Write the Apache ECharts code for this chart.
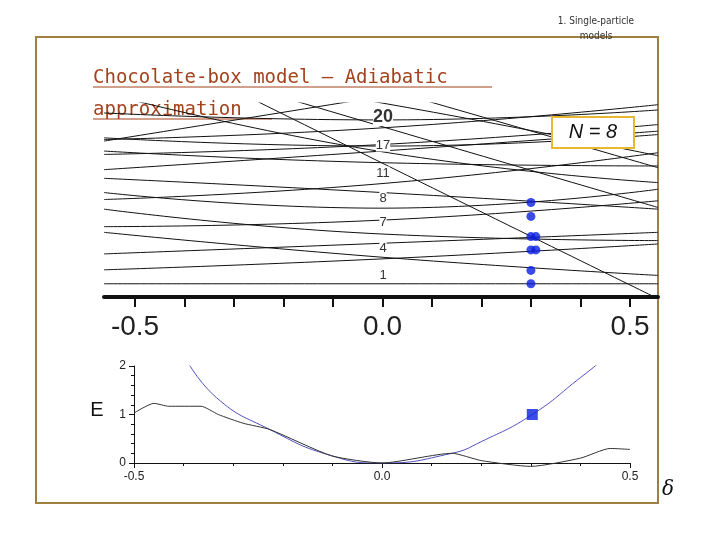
<!DOCTYPE html>
<html><head><meta charset="utf-8">
<script src="https://cdn.jsdelivr.net/npm/echarts@6/dist/echarts.min.js"></script>
<style>html,body{margin:0;padding:0;background:#fff}#c{width:720px;height:540px}</style>
</head><body><div id="c"></div>
<script>
// Top panel: level curves, values at delta = -0.56, 0, 0.556 (arbitrary energy units)
const levelX = [-0.56, 0, 0.556];
const levels = [
  [1.33,1.33,1.33],[2.73,3.83,5.33],[6.5,4.0,2.17],[4.33,5.4,6.5],[8.83,6.33,5.67],
  [7.07,7.73,9.67],[10.5,8.93,10.83],[11.93,10.5,8.83],[12.8,14.67,16.67],[14.33,15.33,17.33],
  [14.67,13.5,13.17],[16.0,15.17,16.33],[15.83,17.0,19.33],[27.3,13.47,-0.17],[25.4,17.13,9.0],
  [29.0,21.0,13.0],[15.67,20.17,24.67],[20.5,14.6,11.5],[9.8,11.4,14.5],[18.5,17.8,18.8],[24,19.5,14.2]
];
const dotsX = [0.3,0.3,0.3,0.31,0.3,0.31,0.3,0.3];
const dotsY = [9.5,8.1,6.07,6.07,4.73,4.73,2.67,1.33];
const levelLabels = ['20','17','11','8','7','4','1'];
const levelLabelY = [117,145,173,198,222,248,275];
// Bottom panel
const blueCurve = [[-0.40,2.23],[-0.334,1.35],[-0.226,0.69],[-0.102,0.15],[0,0],[0.141,0.2],[0.2,0.44],[0.303,1.0],[0.4,1.76],[0.458,2.23]];
const blackCurve = [[-0.5,1.03],[-0.46,1.23],[-0.43,1.17],[-0.365,1.17],[-0.33,1.0],[-0.28,0.82],[-0.226,0.69],[-0.102,0.15],[0,0],[0.141,0.2],[0.2,0.05],[0.3,-0.07],[0.4,0.1],[0.46,0.3],[0.5,0.28]];
const square = [[0.303,1.0]];

const series = [];
levels.forEach(l => series.push({type:'line',xAxisIndex:0,yAxisIndex:0,smooth:true,symbol:'none',
  data:levelX.map((x,i)=>[x,l[i]]),lineStyle:{color:'#111',width:1},silent:true}));
series.push({type:'scatter',xAxisIndex:0,yAxisIndex:0,symbolSize:9,itemStyle:{color:'#0a1ee0'},
  data:dotsX.map((x,i)=>[x,dotsY[i]]),z:5});
series.push({type:'line',xAxisIndex:2,yAxisIndex:2,smooth:true,symbol:'none',data:blueCurve,lineStyle:{color:'#5050c0',width:1}});
series.push({type:'line',xAxisIndex:2,yAxisIndex:2,smooth:0.2,symbol:'none',data:blackCurve,clip:false,lineStyle:{color:'#333',width:1}});
series.push({type:'scatter',xAxisIndex:2,yAxisIndex:2,symbol:'rect',symbolSize:11,data:square,itemStyle:{color:'#0a1ee0'},z:5});

const graphics = [
  {type:'rect',shape:{x:36,y:37,width:622,height:466},style:{fill:'none',stroke:'#a08040',lineWidth:2}},
  {type:'text',x:596,y:14,style:{text:'1. Single-particle\nmodels',font:'10px "DejaVu Sans Condensed"',fill:'#333',align:'center',lineHeight:15}},
  {type:'text',x:93,y:62,style:{text:'Chocolate-box model – Adiabatic\napproximation',font:'19px "DejaVu Sans Mono"',fill:'#a3421c',lineHeight:32}},
  {type:'line',shape:{x1:93,y1:87,x2:492,y2:87},style:{stroke:'#a3421c',lineWidth:1.2}},
  {type:'line',shape:{x1:93,y1:119,x2:272,y2:119},style:{stroke:'#a3421c',lineWidth:1.2}},
  {type:'rect',shape:{x:552,y:117,width:82,height:31},style:{fill:'#fff',stroke:'#e8b830',lineWidth:2},z:10},
  {type:'text',x:593,y:132,style:{text:'N = 8',font:'italic 20px Arial, "Liberation Sans"',fill:'#111',align:'center',verticalAlign:'middle'},z:11},
  {type:'text',x:97,y:410,style:{text:'E',font:'20px "Liberation Sans"',fill:'#111',align:'center',verticalAlign:'middle'}},
  {type:'text',x:668,y:490,style:{text:'δ',font:'italic 20px "DejaVu Serif"',fill:'#111',align:'center',verticalAlign:'middle'}}
];
levelLabels.forEach((t,i)=>graphics.push({type:'text',x:383,y:levelLabelY[i],style:{text:t,
  font:(i===0?'bold 18px':'13px')+' "Liberation Sans"',fill:'#333',align:'center',verticalAlign:'middle',backgroundColor:'#fff'},z:8}));

const chart = echarts.init(document.getElementById('c'));
chart.setOption({
  animation:false,
  graphic:graphics,
  grid:[
    {left:104,right:62,top:103,bottom:243},
    {left:135,right:90,top:297,bottom:243},
    {left:134,right:90,top:366,bottom:77}
  ],
  xAxis:[
    {gridIndex:0,type:'value',min:-0.56,max:0.556,axisLine:{lineStyle:{color:'#111',width:4}},axisTick:{show:false},axisLabel:{show:false},splitLine:{show:false}},
    {gridIndex:1,type:'value',min:-0.5,max:0.5,interval:0.1,position:'bottom',axisLine:{show:false},
      axisTick:{show:true,length:10,lineStyle:{color:'#111',width:2}},splitLine:{show:false},
      axisLabel:{fontSize:28,color:'#222',margin:16,fontFamily:'Liberation Sans',
        formatter:v=>Math.abs(v)<1e-9?'0.0':(Math.abs(v+0.5)<1e-9?'-0.5':(Math.abs(v-0.5)<1e-9?'0.5':''))}},
    {gridIndex:2,type:'value',min:-0.5,max:0.5,interval:0.5,axisLine:{onZero:false,lineStyle:{color:'#111'}},
      axisTick:{length:5},minorTick:{show:true,splitNumber:5,length:3},splitLine:{show:false},
      axisLabel:{color:'#222',fontSize:12,formatter:v=>v.toFixed(1)}}
  ],
  yAxis:[
    {gridIndex:0,type:'value',min:0,max:19.5,show:false},
    {gridIndex:1,type:'value',show:false},
    {gridIndex:2,type:'value',min:0,max:2,interval:1,axisLine:{show:true,onZero:false,lineStyle:{color:'#111'}},
      axisTick:{show:true,length:5},minorTick:{show:true,splitNumber:5,length:3},splitLine:{show:false},
      axisLabel:{color:'#222',fontSize:12}}
  ],
  series:series
});
</script></body></html>
